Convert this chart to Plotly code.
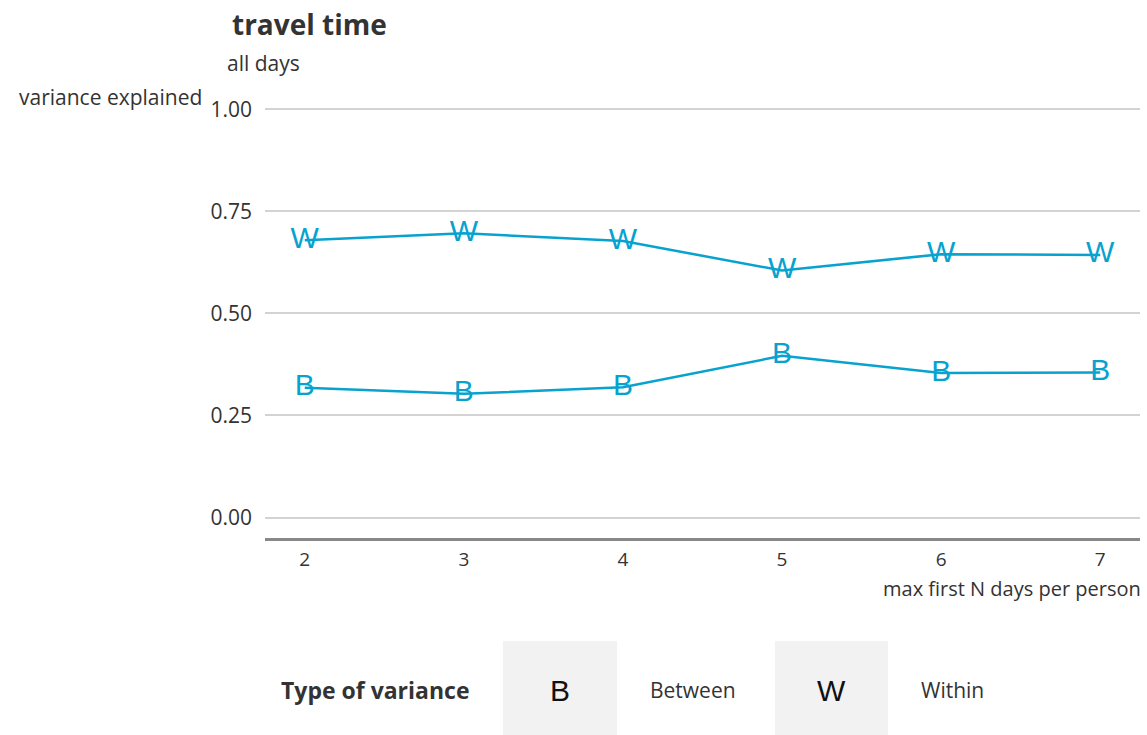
import plotly.graph_objects as go

days = [2, 3, 4, 5, 6, 7]
within = [0.679, 0.696, 0.677, 0.605, 0.645, 0.643]
between = [0.318, 0.303, 0.319, 0.396, 0.354, 0.355]
y_ticks = [0.0, 0.25, 0.5, 0.75, 1.0]
y_ticklabels = ["0.00", "0.25", "0.50", "0.75", "1.00"]

COL = "#08a2cf"
TXT = "#333333"
FONT = "Open Sans"

W, H = 1147, 735
L, R, T, B = 265, 7, 101, 197
PW, PH = W - L - R, H - T - B


def px(x):
    return (x - L) / PW


def py(y):
    return (H - B - y) / PH


fig = go.Figure()
for name, vals, sym in [("Within", within, "W"), ("Between", between, "B")]:
    fig.add_trace(go.Scatter(
        x=days, y=vals, mode="lines+text", name=name,
        text=[sym] * len(days), textposition="middle center",
        textfont=dict(family="Liberation Sans", size=30, color=COL),
        line=dict(color=COL, width=2.5), showlegend=False,
    ))

annotations = [
    dict(text="<b>travel time</b>", x=px(230), y=py(24), xanchor="left", yanchor="middle",
         font=dict(size=28, color=TXT, family=FONT)),
    dict(text="all days", x=px(225), y=py(63), xanchor="left", yanchor="middle",
         font=dict(size=21, color=TXT, family=FONT)),
    dict(text="variance explained", x=px(204), y=py(97), xanchor="right", yanchor="middle",
         font=dict(size=21, color=TXT, family=FONT)),
    dict(text="max first N days per person", x=px(1143), y=py(588), xanchor="right", yanchor="middle",
         font=dict(size=20, color=TXT, family=FONT)),
    dict(text="<b>Type of variance</b>", x=px(279), y=py(690), xanchor="left", yanchor="middle",
         font=dict(size=23, color=TXT, family=FONT)),
    dict(text="B", x=px(560), y=py(690), xanchor="center", yanchor="middle",
         font=dict(size=30, color="#111111", family="Liberation Sans")),
    dict(text="Between", x=px(648), y=py(690), xanchor="left", yanchor="middle",
         font=dict(size=21, color=TXT, family=FONT)),
    dict(text="W", x=px(831), y=py(690), xanchor="center", yanchor="middle",
         font=dict(size=30, color="#111111", family="Liberation Sans")),
    dict(text="Within", x=px(919), y=py(690), xanchor="left", yanchor="middle",
         font=dict(size=21, color=TXT, family=FONT)),
]
for a in annotations:
    a.update(xref="paper", yref="paper", showarrow=False)

shapes = [
    dict(type="rect", xref="paper", yref="paper", x0=px(503), x1=px(617), y0=py(735), y1=py(641),
         fillcolor="#f2f2f2", line=dict(width=0), layer="below"),
    dict(type="rect", xref="paper", yref="paper", x0=px(775), x1=px(888), y0=py(735), y1=py(641),
         fillcolor="#f2f2f2", line=dict(width=0), layer="below"),
]

fig.update_layout(
    width=W, height=H,
    margin=dict(l=L, r=R, t=T, b=B),
    plot_bgcolor="white", paper_bgcolor="white",
    font=dict(family=FONT, color=TXT, size=20),
    annotations=annotations, shapes=shapes,
    xaxis=dict(range=[1.75, 7.25], tickvals=days, ticktext=[str(d) for d in days],
               showgrid=False, zeroline=False, showline=True, linecolor="#888888", linewidth=3,
               ticks="", tickfont=dict(size=19, color=TXT), ticklabelstandoff=2),
    yaxis=dict(range=[-0.05, 1.02], tickvals=y_ticks, ticktext=y_ticklabels,
               showgrid=True, gridcolor="#d3d3d3", gridwidth=1.5, zeroline=False, showline=False,
               ticks="", tickfont=dict(size=21, color=TXT), ticklabelstandoff=12),
)

fig.write_html("out.html", config={"displayModeBar": False},
               post_script="document.body.style.margin='0';document.body.style.padding='0';")
